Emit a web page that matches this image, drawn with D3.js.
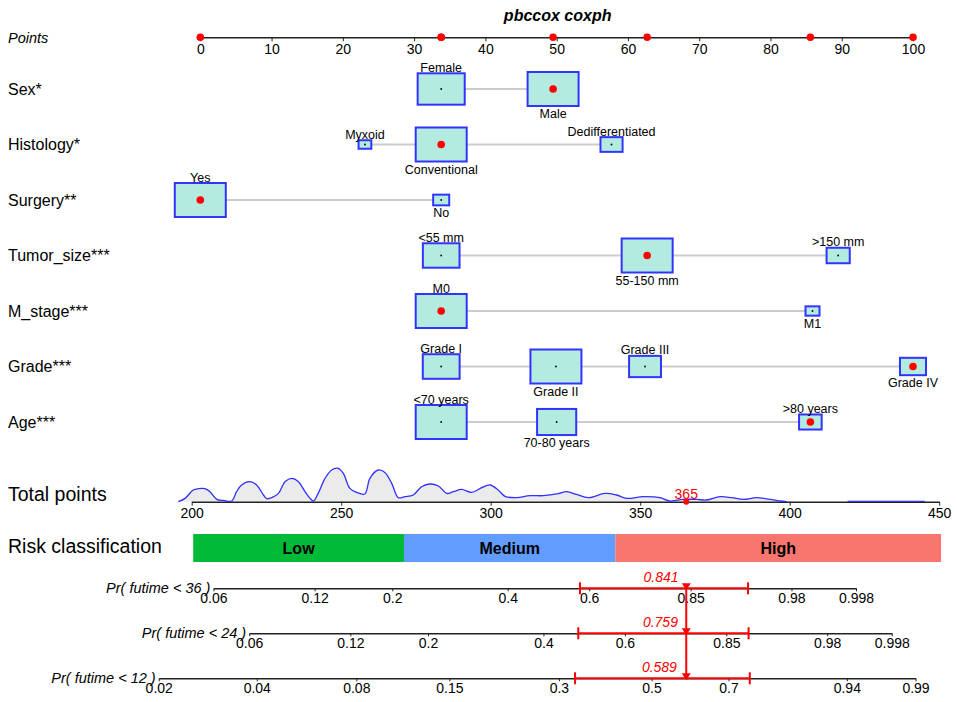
<!DOCTYPE html>
<html>
<head>
<meta charset="utf-8">
<script src="https://cdn.jsdelivr.net/npm/d3@7"></script>
<style>
  body { margin: 0; background: #fff; }
  svg text { font-family: "Liberation Sans", Arial, sans-serif; }
</style>
</head>
<body>
<div class="nomogram"></div>
<script>
// ---- values ----
var variables = ['Sex*', 'Histology*', 'Surgery**', 'Tumor_size***', 'M_stage***', 'Grade***', 'Age***'];
var levels = [
  ['Female', 'Male'],
  ['Myxoid', 'Conventional', 'Dedifferentiated'],
  ['Yes', 'No'],
  ['<55 mm', '55-150 mm', '>150 mm'],
  ['M0', 'M1'],
  ['Grade I', 'Grade II', 'Grade III', 'Grade IV'],
  ['<70 years', '70-80 years', '>80 years']
];
var levelPoints = [
  [33.8, 49.5],
  [23.1, 33.8, 57.7],
  [0, 33.8],
  [33.8, 62.7, 89.5],
  [33.8, 85.9],
  [33.8, 49.9, 62.4, 100],
  [33.8, 50.0, 85.6]
];
// share of patients in each level (box size)
var levelPercent = [
  [46, 54],
  [5, 80, 15],
  [91, 9],
  [30, 58, 12],
  [93, 7],
  [24, 46, 18, 12],
  [56, 33, 11]
];
var selectedLevel = [1, 1, 0, 1, 0, 3, 2];

var pointsTicks = [0, 10, 20, 30, 40, 50, 60, 70, 80, 90, 100];
var totalTicks = [200, 250, 300, 350, 400, 450];

// distribution of total points (relative density)
var densityX = [195.5, 197.8, 200.5, 202.2, 204.4, 206.1, 208.4, 210.6, 213.4, 215, 216.7, 219.5, 221.7, 224, 225.1,
  226.8, 229, 231.2, 233.4, 235.7, 237.9, 239.6, 240.7, 242.3, 244.6, 246.8, 249, 250.7, 252.9, 255.2, 257.9, 259.6,
  262.4, 264.6, 266.9, 269.1, 271.3, 274.1, 276.9, 279.7, 282.5, 285.3, 287.5, 290.3, 293.6, 297, 299.8, 302.5, 304.8,
  308.7, 313.1, 317.6, 322.6, 325.4, 328.7, 332.6, 338.2, 342.1, 345.5, 351, 356.6, 359.9, 364.4, 368.9, 372.2, 376.7,
  380.6, 384.5, 389, 393.4, 396.7, 399, 405, 419.4, 445.2];
var densityY = [0, 3.3, 11.7, 13, 13, 10, 2.3, 1.3, 0.7, 10, 16.7, 20, 16.7, 6.7, 3,
  4, 8.3, 20, 23.3, 20, 10, 3.3, 0.7, 8.3, 23.3, 31.7, 33.3, 28.3, 13.3, 9.3, 7.7, 23.3,
  31.7, 29.3, 18.3, 4, 5, 6.7, 15, 17.7, 15.7, 8.3, 10, 12.3, 9.3, 14, 16.7, 11.7, 5.3,
  4, 6, 6, 8, 10, 7.3, 4, 8.3, 6.7, 3.3, 5, 4, 0.7, 2.3, 2.3, 1.7, 5,
  4, 2.3, 4, 2.3, 0.7, 0, null, 0.4, 0.4];

var riskLabels = ['Low', 'Medium', 'High'];
var riskBreaks = [200.5, 271, 341.7, 450.6];
var riskColors = ['#00BA38', '#619CFF', '#F8766D'];

var probLabels = ['Pr( futime < 36 )', 'Pr( futime < 24 )', 'Pr( futime < 12 )'];
var probTicks = [
  [0.06, 0.12, 0.2, 0.4, 0.6, 0.85, 0.98, 0.998],
  [0.06, 0.12, 0.2, 0.4, 0.6, 0.85, 0.98, 0.998],
  [0.02, 0.04, 0.08, 0.15, 0.3, 0.5, 0.7, 0.94, 0.99]
];
var probValues = [0.841, 0.759, 0.589];
var probLower = [0.576, 0.481, 0.330];
var probUpper = [0.943, 0.892, 0.754];
var beta = 0.02145; // linear predictor per total point

// ---- layout ----
var width = 957;
var height = 702;
var FONT_AXIS = '14px';
var BOX_W = 51;

var svg = d3.select('.nomogram').append('svg')
  .attr('width', width)
  .attr('height', height);

var xPoints = d3.scaleLinear().domain([0, 100]).range([200.3, 913]);
var xTotal = d3.scaleLinear().domain([200, 450]).range([191.7, 939.2]);
var rowY = d3.scaleLinear().domain([0, variables.length - 1]).range([89, 422]);

var totalScore = d3.sum(levelPoints, function (p, i) { return p[selectedLevel[i]]; });

function cloglog(p) { return Math.log(-Math.log(1 - p)); }

function styleAxis(g) {
  g.select('.domain').attr('stroke', '#222').attr('stroke-width', 1.5);
  g.selectAll('.tick line').attr('stroke', '#222');
  g.selectAll('.tick text')
    .attr('fill', '#000')
    .style('font-size', FONT_AXIS)
    .style('font-family', '"Liberation Sans", Arial, sans-serif');
}

// title
svg.append('text')
  .attr('x', xPoints(50) + 1)
  .attr('y', 21)
  .attr('text-anchor', 'middle')
  .style('font-size', '16px')
  .style('font-weight', 'bold')
  .style('font-style', 'italic')
  .text('pbccox coxph');

// points axis
svg.append('text')
  .attr('x', 8).attr('y', 43)
  .style('font-size', '14.5px')
  .style('font-style', 'italic')
  .text('Points');

svg.append('g')
  .attr('transform', 'translate(0,37.3)')
  .call(d3.axisBottom(xPoints).tickValues(pointsTicks).tickSize(4).tickSizeOuter(0).tickPadding(2.5))
  .call(styleAxis);

svg.append('g').selectAll('circle')
  .data(levelPoints.map(function (p, i) { return p[selectedLevel[i]]; }))
  .enter().append('circle')
  .attr('cx', function (d) { return xPoints(d); })
  .attr('cy', 37.3)
  .attr('r', 3.8)
  .attr('fill', 'red');

// variable rows
variables.forEach(function (name, r) {
  var cy = rowY(r);
  var pts = levelPoints[r];
  var boxW = d3.scaleSqrt().domain([0, d3.max(levelPercent[r])]).range([0, BOX_W]);
  var g = svg.append('g').attr('class', 'row');

  g.append('text')
    .attr('x', 8).attr('y', cy + 5.5)
    .style('font-size', '16px')
    .text(name);

  g.append('line')
    .attr('x1', xPoints(d3.min(pts))).attr('x2', xPoints(d3.max(pts)))
    .attr('y1', cy).attr('y2', cy)
    .attr('stroke', '#cccccc')
    .attr('stroke-width', 2);

  var cells = g.selectAll('.level')
    .data(levels[r])
    .enter().append('g')
    .attr('class', 'level');

  cells.each(function (lab, i) {
    var cell = d3.select(this);
    var w = boxW(levelPercent[r][i]);
    var h = w * 2 / 3;
    var cx = xPoints(pts[i]);
    cell.append('rect')
      .attr('x', cx - w / 2).attr('y', cy - h / 2)
      .attr('width', w).attr('height', h)
      .attr('fill', '#b3ebe0')
      .attr('stroke', '#3333ff')
      .attr('stroke-width', 2);
    if (i === selectedLevel[r]) {
      cell.append('circle').attr('cx', cx).attr('cy', cy).attr('r', 3.8).attr('fill', 'red');
    } else {
      cell.append('circle').attr('cx', cx).attr('cy', cy).attr('r', 0.9).attr('fill', '#000');
    }
    cell.append('text')
      .attr('x', cx)
      .attr('y', i % 2 === 0 ? cy - h / 2 - 1.5 : cy + h / 2 + 12)
      .attr('text-anchor', 'middle')
      .style('font-size', '12.5px')
      .text(lab);
  });
});

// total points
var totalY = 501.7;
var yDens = d3.scaleLinear().domain([0, 34]).range([0, 34]);
var dens = densityX.map(function (x, i) { return { x: x, y: densityY[i] }; });
var densCurve = d3.curveCatmullRom.alpha(0.5);

svg.append('text')
  .attr('x', 8).attr('y', 501)
  .style('font-size', '19.5px')
  .text('Total points');

svg.append('path')
  .datum(dens)
  .attr('fill', '#ebebeb')
  .attr('d', d3.area()
    .defined(function (d) { return d.y !== null; })
    .curve(densCurve)
    .x(function (d) { return xTotal(d.x); })
    .y0(totalY)
    .y1(function (d) { return totalY - yDens(d.y); }));

svg.append('g')
  .attr('transform', 'translate(0,' + totalY + ')')
  .call(d3.axisBottom(xTotal).tickValues(totalTicks).tickSize(4).tickSizeOuter(0).tickPadding(2.5))
  .call(styleAxis);

svg.append('path')
  .datum(dens)
  .attr('fill', 'none')
  .attr('stroke', '#3030ff')
  .attr('stroke-width', 1.3)
  .attr('d', d3.line()
    .defined(function (d) { return d.y !== null; })
    .curve(densCurve)
    .x(function (d) { return xTotal(d.x); })
    .y(function (d) { return totalY - yDens(d.y); }));

svg.append('circle')
  .attr('cx', xTotal(totalScore)).attr('cy', totalY)
  .attr('r', 3).attr('fill', 'red');

svg.append('text')
  .attr('x', xTotal(totalScore)).attr('y', 499)
  .attr('text-anchor', 'middle')
  .attr('fill', 'red')
  .style('font-size', '14px')
  .text(d3.format('.0f')(totalScore));

// risk classification
svg.append('text')
  .attr('x', 8).attr('y', 553)
  .style('font-size', '19.5px')
  .text('Risk classification');

var risk = svg.append('g').selectAll('g')
  .data(riskLabels)
  .enter().append('g');

risk.append('rect')
  .attr('x', function (d, i) { return xTotal(riskBreaks[i]); })
  .attr('width', function (d, i) { return xTotal(riskBreaks[i + 1]) - xTotal(riskBreaks[i]); })
  .attr('y', 534)
  .attr('height', 28)
  .attr('fill', function (d, i) { return riskColors[i]; });

risk.append('text')
  .attr('x', function (d, i) { return (xTotal(riskBreaks[i]) + xTotal(riskBreaks[i + 1])) / 2; })
  .attr('y', 554)
  .attr('text-anchor', 'middle')
  .style('font-size', '16px')
  .style('font-weight', 'bold')
  .text(function (d) { return d; });

// survival probability axes
var probY = [588.3, 633.3, 678.3];
var xMark = xTotal(totalScore);

probTicks.forEach(function (ticks, i) {
  var c0 = cloglog(probValues[i]);
  var lo = cloglog(ticks[0]);
  var hi = cloglog(ticks[ticks.length - 1]);
  var sc = d3.scaleLinear()
    .domain([lo, hi])
    .range([xTotal(totalScore + (lo - c0) / beta), xTotal(totalScore + (hi - c0) / beta)]);

  svg.append('text')
    .attr('x', sc(lo) - 3).attr('y', probY[i] + 5)
    .attr('text-anchor', 'end')
    .style('font-size', '14.5px')
    .style('font-style', 'italic')
    .text(probLabels[i]);

  svg.append('g')
    .attr('transform', 'translate(0,' + probY[i] + ')')
    .call(d3.axisBottom(sc)
      .tickValues(ticks.map(cloglog))
      .tickFormat(function (d, k) { return ticks[k]; })
      .tickSize(3).tickSizeOuter(0).tickPadding(2))
    .call(styleAxis);

  var x1 = sc(cloglog(probLower[i]));
  var x2 = sc(cloglog(probUpper[i]));
  var ci = svg.append('g').attr('stroke', 'red').attr('stroke-width', 2);
  ci.append('line').attr('x1', x1).attr('x2', x2).attr('y1', probY[i]).attr('y2', probY[i]);
  ci.append('line').attr('x1', x1).attr('x2', x1).attr('y1', probY[i] - 6).attr('y2', probY[i] + 6);
  ci.append('line').attr('x1', x2).attr('x2', x2).attr('y1', probY[i] - 6).attr('y2', probY[i] + 6);

  svg.append('path')
    .attr('d', 'M' + (xMark - 4.5) + ',' + (probY[i] - 5) + 'L' + (xMark + 4.5) + ',' + (probY[i] - 5) +
      'L' + xMark + ',' + (probY[i] + 2) + 'Z')
    .attr('fill', 'red');

  svg.append('text')
    .attr('x', (x1 + x2) / 2 - 3).attr('y', probY[i] - 6.5)
    .attr('text-anchor', 'middle')
    .attr('fill', 'red')
    .style('font-size', '14px')
    .style('font-style', 'italic')
    .text(d3.format('.3f')(probValues[i]));
});

svg.append('line')
  .attr('x1', xMark).attr('x2', xMark)
  .attr('y1', probY[0]).attr('y2', probY[2])
  .attr('stroke', 'red')
  .attr('stroke-width', 2);
</script>
</body>
</html>
